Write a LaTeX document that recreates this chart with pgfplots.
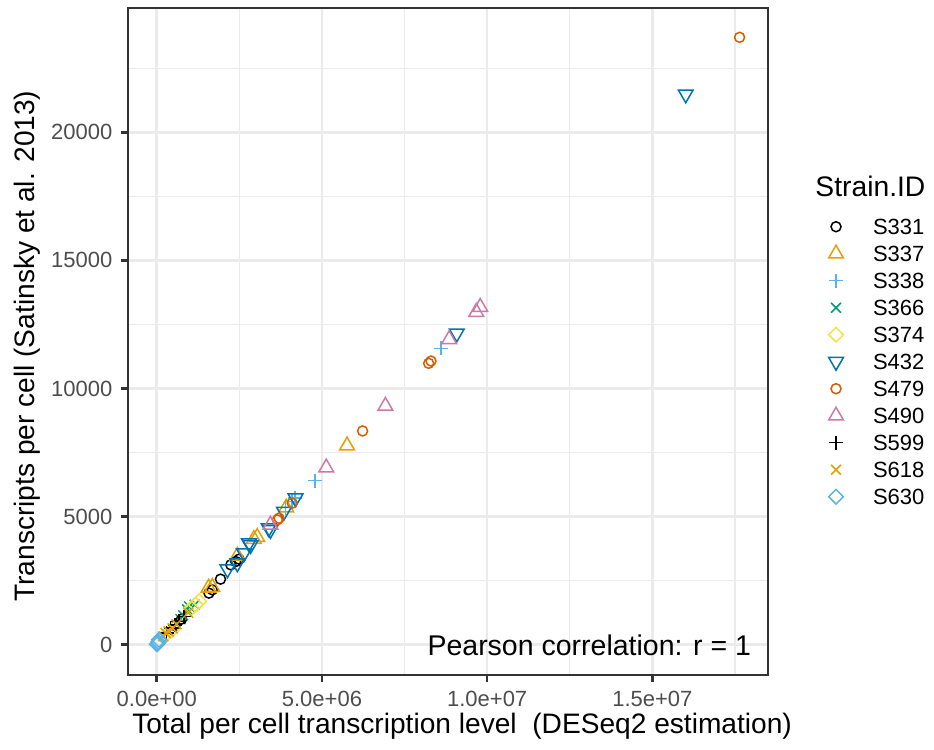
\documentclass[border=0pt]{standalone}
\usepackage{pgfplots}
\pgfplotsset{compat=1.18}
\usepackage{fontspec}
\setmainfont{Liberation Sans}
\definecolor{gray92}{HTML}{EBEBEB}
\definecolor{gray20}{HTML}{333333}
\definecolor{gray30}{HTML}{4D4D4D}
\definecolor{oiblack}{HTML}{000000}
\definecolor{oiorange}{HTML}{E69F00}
\definecolor{oisky}{HTML}{56B4E9}
\definecolor{oigreen}{HTML}{009E73}
\definecolor{oiyellow}{HTML}{F0E442}
\definecolor{oiblue}{HTML}{0072B2}
\definecolor{oiverm}{HTML}{D55E00}
\definecolor{oipink}{HTML}{CC79A7}
\begin{document}
\begin{tikzpicture}
\useasboundingbox (-51.2pt,-29.6pt) rectangle (322.4pt,270pt);
\begin{axis}[
  scale only axis, width=256pt, height=266.8pt,
  clip mode=individual,
  xmin=-870000, xmax=18500000, ymin=-1180, ymax=24850,
  scaled x ticks=false, scaled y ticks=false,
  xtick={0,5000000,10000000,15000000},
  xticklabels={0.0e+00,5.0e+06,1.0e+07,1.5e+07},
  ytick={0,5000,10000,15000,20000},
  yticklabels={0,5000,10000,15000,20000},
  minor xtick={2500000,7500000,12500000,17500000},
  minor ytick={2500,7500,12500,17500,22500},
  grid=both,
  major grid style={color=gray92, line width=1.07pt},
  minor grid style={color=gray92, line width=0.53pt},
  minor tick length=0pt, major tick length=2.75pt, tick align=outside,
  tick pos=left,
  axis line style={gray20, line width=1.07pt},
  every tick/.style={gray20, line width=1.07pt},
  /pgf/number format/assume math mode=true,
  tick label style={font=\fontsize{8.8}{10}\selectfont, text=gray30},
  xlabel={Total per cell transcription level\ \ (DESeq2 estimation)},
  ylabel={Transcripts per cell (Satinsky et al. 2013)},
  label style={font=\fontsize{11.25}{13}\selectfont, text=black},
  xlabel style={at={(axis description cs:0.522,-0.077)}, anchor=center},
  ylabel style={at={(axis description cs:-0.158,0.493)}, anchor=center},
  legend style={at={(axis description cs:1.0895,0.6923)}, anchor=north west,
    draw=none, fill=none, inner sep=0pt, outer sep=0pt, row sep=0pt,
    font=\fontsize{8.8}{10}\selectfont,
    nodes={inner sep=0pt, text height=8.55pt, text depth=2.25pt},
    /tikz/every odd column/.append style={column sep=10.5pt}},
  legend cell align=left,
  legend image code/.code={\path (0pt,0pt) (8pt,0pt);
    \draw[mark repeat=2,mark phase=2,#1] plot coordinates {(0pt,0pt)(4pt,0pt)(8pt,0pt)};},
]
% S331
\addplot[only marks, color=oiblack, mark=o, mark size=2pt, line width=0.6pt] coordinates {
(1580000,2015) (1680000,2144) (1930000,2561) (2240000,3119) (2390000,3248) (2490000,3341) (550000,750) (750000,1000)};
\addlegendentry{S331}
% S337
\addplot[only marks, color=oiorange, mark=triangle, mark size=3.4pt, line width=0.6pt] coordinates {
(1570000,2222) (1680000,2250) (2440000,3470) (2940000,4120) (3040000,4200) (3920000,5350) (5760000,7771)};
\addlegendentry{S337}
% S338
\addplot[only marks, color=oisky, mark=+, mark size=2.8pt, line width=0.6pt] coordinates {
(3900000,5350) (4100000,5600) (4180000,5720) (4790000,6406) (8600000,11570)};
\addlegendentry{S338}
% S366
\addplot[only marks, color=oigreen, mark=x, mark size=2.8pt, line width=0.6pt] coordinates {
(720000,1000) (800000,1150) (920000,1380) (980000,1493) (1150000,1560)};
\addlegendentry{S366}
% S374
\addplot[only marks, color=oiyellow, mark=square, mark options={rotate=45}, mark size=2.08pt, line width=0.6pt] coordinates {
(200000,300) (450000,560) (1050000,1430) (1180000,1560) (1280000,1700)};
\addlegendentry{S374}
% S432
\addplot[only marks, color=oiblue, mark=triangle, mark options={rotate=180}, mark size=3.4pt, line width=0.6pt] coordinates {
(2140000,2951) (2440000,3185) (2640000,3575) (2790000,3965) (2840000,3899) (3390000,4550) (3440000,4484) (3850000,5197) (4200000,5720) (9080000,12153) (16010000,21483)};
\addlegendentry{S432}
% S479
\addplot[only marks, color=oiverm, mark=o, mark size=2pt, line width=0.6pt] coordinates {
(3650000,4874) (3700000,4940) (4100000,5525) (6230000,8344) (8230000,10983) (8300000,11073) (17640000,23706)};
\addlegendentry{S479}
% S490
\addplot[only marks, color=oipink, mark=triangle, mark size=3.4pt, line width=0.6pt] coordinates {
(3440000,4679) (5130000,6913) (6920000,9319) (8850000,11920) (9670000,12984) (9790000,13180)};
\addlegendentry{S490}
% S599
\addplot[only marks, color=oiblack, mark=+, mark size=2.8pt, line width=0.6pt] coordinates {
(300000,460) (420000,651) (550000,780) (670000,909) (820000,1103)};
\addlegendentry{S599}
% S618
\addplot[only marks, color=oiorange, mark=x, mark size=2.8pt, line width=0.6pt] coordinates {
(200000,330) (270000,456) (360000,520) (480000,640) (600000,800) (950000,1250)};
\addlegendentry{S618}
% S630
\addplot[only marks, color=oisky, mark=square, mark options={rotate=45}, mark size=2.08pt, line width=0.6pt] coordinates {
(10000,20) (30000,60) (50000,110) (70000,195)};
\addlegendentry{S630}
\node[anchor=base east, yshift=-4.1pt, font=\fontsize{11.4}{13}\selectfont, inner sep=0pt] at (axis cs:18000000,0) {Pearson correlation: r = 1};
\node[anchor=west, font=\fontsize{11.3}{13}\selectfont, inner sep=0pt] at (axis description cs:1.0734,0.732) {Strain.ID};
\end{axis}
\end{tikzpicture}
\end{document}
